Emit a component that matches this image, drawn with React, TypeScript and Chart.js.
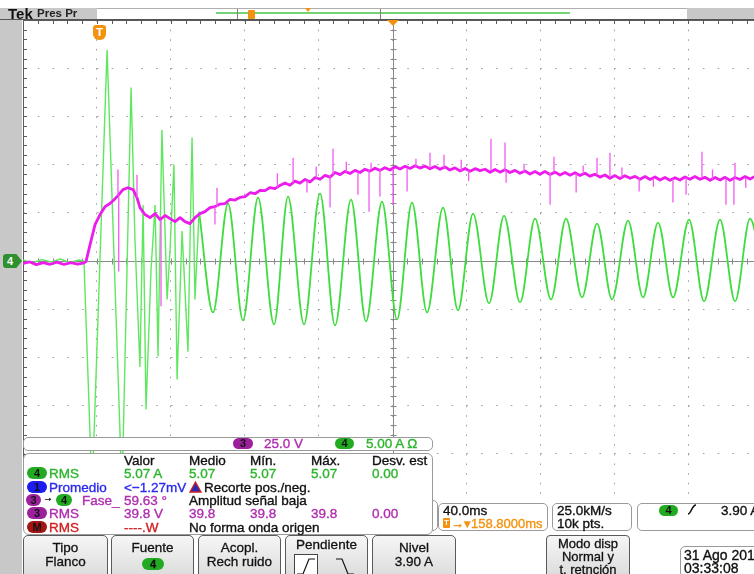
import React, { useEffect, useRef } from "react";
import { Chart, registerables } from "chart.js";
Chart.register(...registerables);

// ---- horizontal / vertical settings ----
const TIME_PER_DIV = 40; // ms/div
const TIME_CENTER = 158.8; // ms (trigger -> center delay)
const X_MIN = TIME_CENTER - 5 * TIME_PER_DIV;
const X_MAX = TIME_CENTER + 5 * TIME_PER_DIV;
const CH4_SCALE = 5; // A/div
const CH3_SCALE = 25; // V/div

// ---- channel 4 (current, A): transient after switching [ms, A] ----
const currentTransient: [number, number][] = [
  [-41.2, 0.1], [-36, -0.2], [-31, 0.15], [-26, -0.1], [-21, 0.2], [-16, -0.15], [-11, 0.1], [-8.2, 0],
  [-3.8, -24], [4.3, 21.9], [12.4, -24], [17.3, 18.0], [19.4, 2.2], [22.1, -11.0], [23.8, 5.8],
  [25.4, -15.4], [28.1, -0.9], [30.3, 5.8], [31.9, -9.9], [34.0, 13.6], [36.8, -4.0], [38.4, 1.2],
  [40.5, 10.0], [42.2, -12.3], [44.9, 3.1], [48.1, -9.4], [50.3, 12.8], [51.9, -4.0], [54.1, 5.1],
];

// ---- channel 4 (current, A): 60 Hz steady part, peaks & troughs [ms, A] ----
const currentSteady: [number, number][] = [
  [54.1, 5.1], [61.65, -5.33], [69.77, 5.95], [77.89, -6.16], [86.01, 6.57], [94.67, -6.57],
  [102.25, 6.68], [110.91, -6.57], [119.57, 6.99], [127.69, -6.68], [136.35, 6.37], [144.47, -6.26],
  [153.13, 6.16], [161.25, -6.06], [169.37, 6.06], [177.49, -5.33], [186.15, 5.54], [194.27, -5.12],
  [202.39, 4.92], [211.05, -4.4], [219.17, 4.71], [227.83, -4.3], [235.95, 4.4], [244.61, -3.99],
  [252.73, 4.4], [261.39, -3.78], [269.51, 3.88], [277.63, -3.99], [286.29, 4.19], [294.41, -3.78],
  [302.53, 3.99], [310.65, -3.78], [319.31, 4.3], [327.43, -4.19], [336.09, 4.3], [344.21, -4.19],
  [352.33, 4.4], [360.99, -4.09],
];

// ---- channel 3 (voltage, V) [ms, V] ----
const voltageTrace: [number, number][] = [
  [-41.2, -1.3], [-37.5, -0.5], [-34.0, -1.9], [-30.2, -0.8], [-26.5, -1.7], [-22.8, -0.6], [-19.0, -1.8],
  [-15.3, -0.9], [-11.6, -1.6], [-8.2, -1.0], [-7.1, -0.3], [-4.9, 8.5], [-2.2, 18.9], [0.5, 24.1],
  [3.2, 28.2], [5.9, 29.8], [8.1, 31.8], [10.2, 33.9], [12.9, 37.0], [15.6, 38.0], [18.4, 37.0],
  [20.5, 32.9], [22.1, 27.7], [24.8, 24.1], [27.6, 22.5], [30.3, 24.6], [33.0, 21.5], [35.7, 23.6],
  [38.4, 22.0], [41.1, 20.4], [43.8, 22.5], [46.5, 20.4], [49.2, 19.4], [51.9, 22.5], [54.6, 24.6],
  [57.3, 25.6], [60.0, 27.7], [62.7, 28.2], [65.4, 29.5], [68.2, 29.8], [70.9, 32.0], [73.6, 31.6],
  [76.3, 33.0], [79.0, 33.4], [81.7, 35.4], [84.4, 34.9], [87.1, 36.6], [89.8, 36.5], [92.5, 38.1],
  [95.2, 37.5], [97.9, 39.2], [100.6, 40.5], [103.3, 39.3], [106.0, 41.4], [108.7, 40.4], [111.5, 42.3],
  [114.2, 41.0], [116.9, 43.3], [119.6, 42.4], [122.3, 44.4], [125.0, 43.5], [127.7, 45.9], [130.4, 44.8],
  [133.1, 46.5], [135.8, 45.4], [138.5, 47.0], [141.2, 45.9], [143.9, 47.6], [146.6, 46.6], [149.3, 48.1],
  [152.0, 47.0], [154.7, 48.4], [157.5, 47.2], [160.2, 48.9], [162.9, 47.7], [165.6, 49.1], [168.3, 48.0],
  [171.0, 49.4], [173.7, 48.2], [176.4, 49.2], [179.1, 47.8], [181.8, 49.0], [184.5, 47.6], [187.2, 48.8],
  [189.9, 47.2], [192.6, 48.3], [195.4, 46.7], [198.1, 48.0], [200.8, 46.6], [203.5, 47.9], [206.2, 46.9],
  [208.9, 47.6], [211.6, 46.0], [214.3, 47.5], [217.0, 46.1], [219.7, 47.3], [222.4, 45.9], [225.1, 47.0],
  [227.8, 45.5], [230.5, 46.7], [233.2, 45.1], [235.9, 46.4], [238.6, 45.0], [241.3, 46.4], [244.1, 44.9],
  [246.8, 46.1], [249.5, 44.6], [252.2, 45.9], [254.9, 44.5], [257.6, 45.8], [260.3, 44.4], [263.0, 45.5],
  [265.7, 44.0], [268.4, 45.0], [271.1, 43.5], [273.8, 44.6], [276.5, 42.9], [279.2, 44.3], [281.9, 42.8],
  [284.6, 44.2], [287.4, 42.9], [290.1, 43.9], [292.8, 42.4], [295.5, 43.8], [298.2, 42.3], [300.9, 43.6],
  [303.6, 42.0], [306.3, 43.3], [309.0, 41.9], [311.7, 43.2], [314.4, 42.0], [317.1, 43.6], [319.8, 42.4],
  [322.5, 43.8], [325.2, 42.4], [327.9, 43.4], [330.7, 41.9], [333.4, 43.3], [336.1, 42.0], [338.8, 43.4],
  [341.5, 41.8], [344.2, 43.3], [346.9, 42.3], [349.6, 43.8], [352.3, 42.5], [355.0, 43.9], [357.7, 42.6],
  [360.4, 43.5],
];

// ---- channel 3 glitches: [ms, from V, to V] ----
const voltageSpikes: [number, number, number][] = [
  [10.2, 33.9, 47.4], [10.6, 33.9, -5.4], [20.5, 32.9, 44.8], [33.5, 21.5, -23.5], [62.7, 28.2, 18.9],
  [63.8, 28.2, 38.0], [96.5, 38.3, 45.5], [105.0, 40.6, 53.6], [112.5, 41.7, 35.5], [117.5, 43.0, 49.0],
  [125.0, 44.3, 27.7], [126.6, 44.8, 58.2], [133.8, 46.0, 51.5], [140.1, 46.3, 34.4], [146.1, 47.4, 25.6],
  [147.2, 47.4, 51.0], [152.0, 47.4, 33.4], [159.1, 47.9, 29.2], [166.7, 48.4, 36.0], [171.5, 48.8, 53.0],
  [179.1, 48.4, 56.2], [186.7, 48.4, 55.1], [196.0, 47.0, 52.5], [200.0, 47.0, 41.5], [212.1, 46.8, 63.4],
  [219.7, 46.8, 61.4], [220.3, 46.8, 40.6], [230.0, 46.0, 50.5], [244.1, 45.8, 29.2], [246.2, 45.8, 54.1],
  [258.2, 45.3, 35.5], [262.0, 45.0, 49.5], [269.5, 44.8, 53.6], [276.5, 43.7, 56.2], [283.0, 43.5, 48.5],
  [292.3, 43.2, 36.0], [300.0, 43.0, 38.5], [310.6, 42.7, 30.3], [317.7, 43.2, 34.4], [326.3, 43.2, 56.7],
  [332.0, 42.5, 47.5], [339.3, 42.7, 29.2], [343.6, 42.7, 29.2], [344.2, 42.7, 51.0], [350.0, 43.0, 38.0],
];

// ---- readouts ----
const measureHeaders = ["Valor", "Medio", "Mín.", "Máx.", "Desv. est"];
const ch4RmsStats = ["5.07 A", "5.07", "5.07", "5.07", "0.00"];
const ch1MeanValue = "<−1.27mV";
const phaseValue = "59.63 °";
const ch3RmsStats = ["39.8 V", "39.8", "39.8", "39.8", "0.00"];
const mathRmsValue = "----.W";
const ch3ScaleLabel = "25.0 V";
const ch4ScaleLabel = "5.00 A Ω";

const FONT = '"Liberation Sans", Arial, Helvetica, sans-serif';
const GREEN_TXT = "#2db52d";
const MAGENTA_TXT = "#b02cb0";
const BLUE_TXT = "#2a2af0";
const RED_TXT = "#d22020";
const ORANGE = "#f3920f";
const GREEN_PILL = "#22aa22";
const PURPLE_PILL = "#9c1f9c";
const BLUE_PILL = "#1c1cf0";
const RED_PILL = "#a41414";
const COLS = [124, 189, 250, 311, 372];

const minorTicks = (min: number, div: number) => Array.from({ length: 51 }, (_, k) => min + (k * div) / 5);

const graticule = {
  id: "graticule",
  beforeDatasetsDraw(chart: any) {
    const { ctx, chartArea } = chart;
    const { left, right, top, bottom } = chartArea;
    const xs = chart.scales.x;
    const ys = chart.scales.y;
    ctx.save();
    ctx.lineWidth = 1;
    const yc = Math.round(ys.getPixelForValue(0)) + 0.5;
    const xc = Math.round(xs.getPixelForValue(TIME_CENTER)) + 0.5;
    ctx.strokeStyle = "#8a8a8a";
    ctx.beginPath();
    ctx.moveTo(left, yc);
    ctx.lineTo(right, yc);
    ctx.moveTo(xc, top);
    ctx.lineTo(xc, bottom);
    for (const v of minorTicks(X_MIN, TIME_PER_DIV)) {
      const x = Math.round(xs.getPixelForValue(v)) + 0.5;
      ctx.moveTo(x, yc - 3);
      ctx.lineTo(x, yc + 3);
    }
    for (const v of minorTicks(-5 * CH4_SCALE, CH4_SCALE)) {
      const y = Math.round(ys.getPixelForValue(v)) + 0.5;
      ctx.moveTo(xc - 3, y);
      ctx.lineTo(xc + 3, y);
    }
    ctx.stroke();
    ctx.strokeStyle = "#5a5a5a";
    ctx.beginPath();
    ctx.moveTo(left + 0.5, top);
    ctx.lineTo(left + 0.5, bottom);
    ctx.moveTo(left, top + 0.5);
    ctx.lineTo(right, top + 0.5);
    for (const v of minorTicks(-5 * CH4_SCALE, CH4_SCALE)) {
      const y = Math.round(ys.getPixelForValue(v)) + 0.5;
      ctx.moveTo(left, y);
      ctx.lineTo(left + 4, y);
    }
    for (const v of minorTicks(X_MIN, TIME_PER_DIV)) {
      const x = Math.round(xs.getPixelForValue(v)) + 0.5;
      ctx.moveTo(x, top);
      ctx.lineTo(x, top + 4);
    }
    ctx.stroke();
    ctx.restore();
  },
};

const toXY = (arr: [number, number][]) => arr.map(([x, y]) => ({ x, y }));

function Txt({ x, y, color = "#111", size = 13.5, bold = false, children }: any) {
  return (
    <div style={{ position: "absolute", left: x, top: y, color, fontSize: size, lineHeight: `${size}px`, fontWeight: bold ? 700 : 400, whiteSpace: "nowrap", fontFamily: FONT, WebkitTextStroke: bold ? undefined : `0.35px ${color}` } as any}>
      {children}
    </div>
  );
}

function Pill({ x, y, w = 20, h = 12, bg, color = "#111", children }: any) {
  return (
    <div style={{ position: "absolute", left: x, top: y, width: w, height: h, borderRadius: h / 2, background: bg, color, fontSize: 11, lineHeight: `${h}px`, fontWeight: 700, textAlign: "center", fontFamily: FONT }}>
      {children}
    </div>
  );
}

function Frame({ x, y, w, h, radius = 5, bg = "#fff", border = "1px solid #9a9a9a", children, extra }: any) {
  return (
    <div style={{ position: "absolute", left: x, top: y, width: w, height: h, borderRadius: radius, background: bg, border, boxSizing: "border-box", ...(extra || {}) }}>
      {children}
    </div>
  );
}

const btnStyle = {
  border: "1px solid #5a5a5a",
  background: "linear-gradient(#f6f6f6, #dadada)",
};

function Button({ x, w, lines, children }: any) {
  return (
    <div style={{ position: "absolute", left: x, top: 535, width: w, height: 45, borderRadius: "5px 5px 0 0", boxSizing: "border-box", ...btnStyle, fontFamily: FONT, fontSize: 13.5, textAlign: "center", color: "#111", WebkitTextStroke: "0.3px #111" } as any}>
      {lines && (
        <div style={{ paddingTop: 5, lineHeight: "14px" }}>
          {lines.map((l: string, i: number) => (
            <div key={i}>{l}</div>
          ))}
        </div>
      )}
      {children}
    </div>
  );
}

export default function App() {
  const ref = useRef<HTMLCanvasElement>(null);
  useEffect(() => {
    const spikeData: any[] = [];
    voltageSpikes.forEach(([t, a, b]) => {
      spikeData.push({ x: t, y: a }, { x: t, y: b }, { x: t, y: null });
    });
    const chart = new Chart(ref.current as HTMLCanvasElement, {
      type: "line",
      data: {
        datasets: [
          { data: spikeData as any, yAxisID: "y2", borderColor: "#f25af2", borderWidth: 1.3, pointRadius: 0, spanGaps: false, tension: 0 },
          { data: toXY(voltageTrace), yAxisID: "y2", borderColor: "#ec1cec", borderWidth: 2.8, pointRadius: 0, tension: 0, borderJoinStyle: "round" },
          { data: toXY(currentTransient), yAxisID: "y", borderColor: "#5fe85f", borderWidth: 1.4, pointRadius: 0, tension: 0 },
          { data: toXY(currentSteady), yAxisID: "y", borderColor: "#3ddd3d", borderWidth: 1.8, pointRadius: 0, cubicInterpolationMode: "monotone" },
        ],
      },
      options: {
        responsive: false,
        animation: false,
        devicePixelRatio: 1,
        events: [],
        layout: { padding: 0 },
        plugins: { legend: { display: false }, tooltip: { enabled: false } },
        scales: {
          x: {
            type: "linear",
            min: X_MIN,
            max: X_MAX,
            ticks: { display: false },
            grid: { color: "#a0a0a0", lineWidth: 1, drawTicks: false },
            border: { display: false, dash: [1.6, 8.04] },
            afterBuildTicks: (s: any) => {
              s.ticks = Array.from({ length: 11 }, (_, i) => ({ value: X_MIN + i * TIME_PER_DIV }));
            },
            afterFit: (s: any) => {
              s.height = 0;
              s.paddingLeft = 0;
              s.paddingRight = 0;
            },
          },
          y: {
            type: "linear",
            min: -5 * CH4_SCALE,
            max: 5 * CH4_SCALE,
            ticks: { display: false },
            grid: { color: "#a0a0a0", lineWidth: 1, drawTicks: false },
            border: { display: false, dash: [1.6, 13.18] },
            afterBuildTicks: (s: any) => {
              s.ticks = Array.from({ length: 11 }, (_, i) => ({ value: -5 * CH4_SCALE + i * CH4_SCALE }));
            },
            afterFit: (s: any) => {
              s.width = 0;
              s.paddingTop = 0;
              s.paddingBottom = 0;
            },
          },
          y2: { type: "linear", display: false, min: -5 * CH3_SCALE, max: 5 * CH3_SCALE },
        },
      } as any,
      plugins: [graticule],
    });
    return () => chart.destroy();
  }, []);

  return (
    <div style={{ position: "absolute", left: 0, top: 0, width: 754, height: 574, overflow: "hidden", background: "#fff", fontFamily: FONT }}>
      <canvas ref={ref} width={739} height={482} style={{ position: "absolute", left: 23, top: 20, width: 739, height: 482 }} />

      {/* top bar */}
      <div style={{ position: "absolute", left: 0, top: 8, width: 97, height: 12, background: "#c8c8c8" }} />
      <div style={{ position: "absolute", left: 97, top: 8, width: 590, height: 12, background: "#fff", borderTop: "1px solid #b0b0b0", boxSizing: "border-box" }} />
      <div style={{ position: "absolute", left: 687, top: 8, width: 67, height: 12, background: "#c8c8c8" }} />
      <Txt x={8} y={6} size={15} bold>Tek</Txt>
      <Txt x={37} y={8} size={11.5} bold color="#222">Pres Pr</Txt>
      <div style={{ position: "absolute", left: 216, top: 12, width: 354, height: 2, background: "#74d374" }} />
      {[237, 380].map((x) => (
        <div key={x} style={{ position: "absolute", left: x, top: 9, width: 1, height: 11, background: "#808080" }} />
      ))}
      <div style={{ position: "absolute", left: 248, top: 10, width: 7, height: 9, background: ORANGE, borderRadius: 1 }} />
      <div style={{ position: "absolute", left: 305, top: 8, width: 0, height: 0, borderLeft: "3px solid transparent", borderRight: "3px solid transparent", borderTop: `4px solid ${ORANGE}` }} />
      <div style={{ position: "absolute", left: 0, top: 19, width: 754, height: 1, background: "#555" }} />

      {/* left strip */}
      <div style={{ position: "absolute", left: 0, top: 20, width: 22, height: 554, background: "#c8c8c8" }} />

      {/* markers */}
      <div style={{ position: "absolute", left: 387, top: 20, width: 0, height: 0, borderLeft: "6px solid transparent", borderRight: "6px solid transparent", borderTop: `6px solid ${ORANGE}` }} />
      <div style={{ position: "absolute", left: 93, top: 25, width: 13, height: 15, background: ORANGE, borderRadius: "3px 3px 6px 6px", color: "#fff", fontSize: 11, fontWeight: 700, textAlign: "center", lineHeight: "15px" }}>T</div>
      <div style={{ position: "absolute", left: 3, top: 254, width: 19, height: 14, background: "#2e902e", clipPath: "polygon(0 0, 70% 0, 100% 50%, 70% 100%, 0 100%)", borderRadius: 3, color: "#fff", fontSize: 11, fontWeight: 700, lineHeight: "14px", paddingLeft: 4, boxSizing: "border-box" }}>4</div>

      {/* scale box */}
      <Frame x={23} y={437} w={410} h={14} radius={5} />
      <Pill x={233} y={438} w={20} h={11} bg={PURPLE_PILL}>3</Pill>
      <Txt x={264} y={437} color={MAGENTA_TXT}>{ch3ScaleLabel}</Txt>
      <Pill x={335} y={438} w={19} h={11} bg={GREEN_PILL}>4</Pill>
      <Txt x={366} y={437} color={GREEN_TXT}>{ch4ScaleLabel}</Txt>

      {/* partially hidden box */}
      <Frame x={418} y={500} w={20} h={31} radius={5} />

      {/* measurement table */}
      <Frame x={23} y={453} w={410} h={82} radius={6} />
      {measureHeaders.map((h, i) => (
        <Txt key={h} x={COLS[i]} y={454} color="#111">{h}</Txt>
      ))}
      {/* row 1 */}
      <Pill x={27} y={467} bg={GREEN_PILL}>4</Pill>
      <Txt x={49} y={467} color={GREEN_TXT}>RMS</Txt>
      {ch4RmsStats.map((v, i) => (
        <Txt key={i} x={COLS[i]} y={467} color={GREEN_TXT}>{v}</Txt>
      ))}
      {/* row 2 */}
      <Pill x={27} y={481} bg={BLUE_PILL}>1</Pill>
      <Txt x={49} y={481} color={BLUE_TXT}>Promedio</Txt>
      <Txt x={COLS[0]} y={481} color={BLUE_TXT}>{ch1MeanValue}</Txt>
      <svg style={{ position: "absolute", left: 189, top: 481 }} width={13} height={12}>
        <polygon points="6.5,1 12,11 1,11" fill="#2a2ab4" stroke="#d02020" strokeWidth={1.3} />
      </svg>
      <Txt x={204} y={481}>Recorte pos./neg.</Txt>
      {/* row 3 */}
      <Pill x={26} y={494} w={15} bg={PURPLE_PILL}>3</Pill>
      <Txt x={43} y={493} size={10}>→</Txt>
      <Pill x={56} y={494} w={16} bg={GREEN_PILL}>4</Pill>
      <Txt x={82} y={494} color={MAGENTA_TXT}>Fase_</Txt>
      <Txt x={COLS[0]} y={494} color={MAGENTA_TXT}>{phaseValue}</Txt>
      <Txt x={189} y={494}>Amplitud señal baja</Txt>
      {/* row 4 */}
      <Pill x={27} y={507} bg={PURPLE_PILL}>3</Pill>
      <Txt x={49} y={507} color={MAGENTA_TXT}>RMS</Txt>
      {ch3RmsStats.map((v, i) => (
        <Txt key={i} x={COLS[i]} y={507} color={MAGENTA_TXT}>{v}</Txt>
      ))}
      {/* row 5 */}
      <Pill x={27} y={521} bg={RED_PILL}>M</Pill>
      <Txt x={49} y={521} color={RED_TXT}>RMS</Txt>
      <Txt x={COLS[0]} y={521} color={RED_TXT}>{mathRmsValue}</Txt>
      <Txt x={189} y={521}>No forma onda origen</Txt>

      {/* horizontal / acquisition / trigger readouts */}
      <Frame x={438} y={503} w={110} h={28} radius={5} />
      <Txt x={443} y={504}>40.0ms</Txt>
      <div style={{ position: "absolute", left: 443, top: 518, width: 7, height: 10, background: ORANGE, borderRadius: 1, color: "#fff", fontSize: 8, fontWeight: 700, lineHeight: "10px", textAlign: "center" }}>T</div>
      <Txt x={451} y={517} color={ORANGE} size={13}>→▾158.8000ms</Txt>
      <Frame x={552} y={503} w={80} h={28} radius={5} />
      <Txt x={557} y={504}>25.0kM/s</Txt>
      <Txt x={557} y={517}>10k pts.</Txt>
      <Frame x={637} y={503} w={130} h={28} radius={5} />
      <Pill x={659} y={505} w={19} h={11} bg={GREEN_PILL}>4</Pill>
      <svg style={{ position: "absolute", left: 686, top: 503 }} width={12} height={13}>
        <path d="M2 11 C5 11 6 2 10 2" stroke="#111" strokeWidth={1.6} fill="none" />
      </svg>
      <Txt x={721} y={504}>3.90 A</Txt>

      {/* bottom buttons */}
      <Button x={23} w={85} lines={["Tipo", "Flanco"]} />
      <Button x={111} w={83} lines={["Fuente"]}>
        <Pill x={30} y={22} w={22} h={12} bg={GREEN_PILL}>4</Pill>
      </Button>
      <Button x={198} w={83} lines={["Acopl.", "Rech ruido"]} />
      <Button x={285} w={83}>
        <div style={{ paddingTop: 2, lineHeight: "14px" }}>Pendiente</div>
        <div style={{ position: "absolute", left: 8, top: 18, width: 24, height: 24, background: "#fff", border: "1px solid #444", boxSizing: "border-box" }}>
          <svg width={22} height={22}>
            <polyline points="2,19 8,19 14,4 20,4" stroke="#111" strokeWidth={1.2} fill="none" />
          </svg>
        </div>
        <svg style={{ position: "absolute", left: 48, top: 19 }} width={22} height={22}>
          <polyline points="2,4 8,4 14,19 20,19" stroke="#111" strokeWidth={1.2} fill="none" />
        </svg>
      </Button>
      <Button x={372} w={84} lines={["Nivel", "3.90 A"]} />
      <div style={{ position: "absolute", left: 546, top: 535, width: 84, height: 45, boxSizing: "border-box", ...btnStyle, borderRadius: "4px 4px 0 0", fontSize: 13, lineHeight: "13px", textAlign: "center", paddingTop: 1, color: "#111", WebkitTextStroke: "0.3px #111" } as any}>
        <div>Modo disp</div>
        <div>Normal y</div>
        <div>t. retnción</div>
      </div>
      <Frame x={680} y={546} w={90} h={32} radius={5} />
      <Txt x={684} y={548} size={14}>31 Ago 2014</Txt>
      <Txt x={684} y={561} size={14}>03:33:08</Txt>
    </div>
  );
}
